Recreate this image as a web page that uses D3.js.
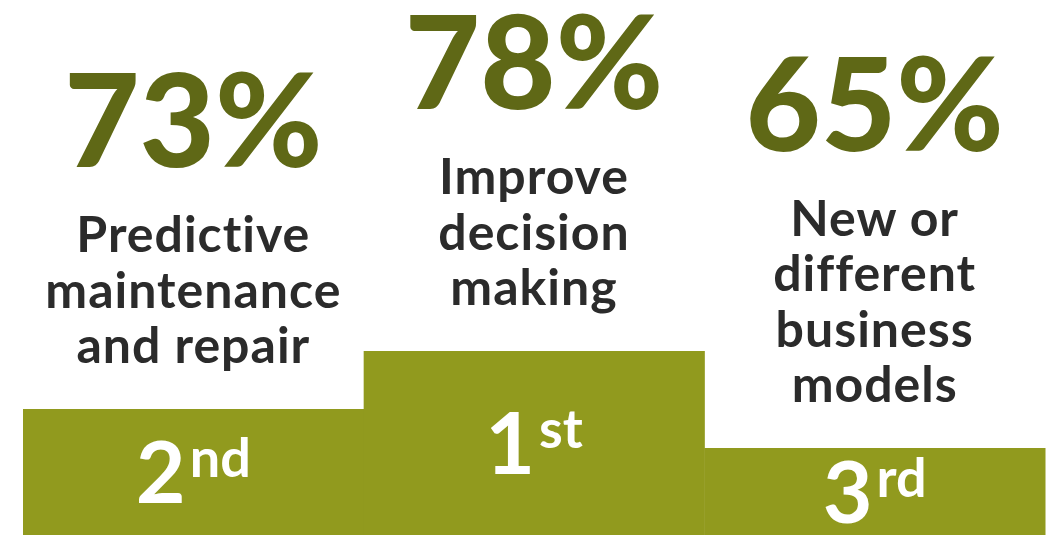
<!DOCTYPE html>
<html>
<head>
<meta charset="utf-8">
<script src="https://cdn.jsdelivr.net/npm/d3@7"></script>
<style>
  html, body { margin: 0; padding: 0; background: #ffffff; }
  svg { display: block; }
</style>
</head>
<body>
<svg id="chart" width="1056" height="535"></svg>
<script>
// Podium: share of respondents per expected benefit, placed by rank
const benefits = ["Predictive maintenance and repair", "Improve decision making", "New or different business models"];
const labelLines = [
  ["Predictive", "maintenance", "and repair"],
  ["Improve", "decision", "making"],
  ["New or", "different", "business", "models"]
];
const percentages = [73, 78, 65];
const ranks = [2, 1, 3];
const rankSuffixes = ["nd", "st", "rd"];

const W = 1056, H = 535;
const svg = d3.select("#chart");

const FONT = "Lato, 'Open Sans', sans-serif";
const podiumColor = "#919a1e";
const percentColor = "#5f6816";
const labelColor = "#2b2b2b";

// horizontal placement of the three steps
const x = d3.scaleBand()
  .domain(benefits)
  .range([23, 1045])
  .padding(0);

// step top by rank: 1st highest, 3rd lowest
const stepTop = d3.scaleOrdinal()
  .domain([1, 2, 3])
  .range([351, 409, 448]);

const rows = benefits.map((b, i) => ({
  benefit: b,
  lines: labelLines[i],
  pct: percentages[i],
  rank: ranks[i],
  suffix: rankSuffixes[i]
}));

const col = svg.selectAll("g.col")
  .data(rows)
  .join("g")
  .attr("class", "col");

// podium steps
col.append("rect")
  .attr("x", d => x(d.benefit))
  .attr("y", d => stepTop(d.rank))
  .attr("width", x.bandwidth() + 0.5)
  .attr("height", d => H - stepTop(d.rank))
  .attr("fill", podiumColor);

// rank number with superscript suffix, centered in the step
const rankText = col.append("text")
  .attr("x", d => x(d.benefit) + x.bandwidth() / 2)
  .attr("y", d => (stepTop(d.rank) + H) / 2 + 31)
  .attr("text-anchor", "middle")
  .attr("font-family", FONT)
  .attr("font-weight", 700)
  .attr("fill", "#ffffff");
rankText.append("tspan")
  .attr("font-size", 86)
  .text(d => d.rank);
rankText.append("tspan")
  .attr("font-size", 54)
  .attr("dx", 4)
  .attr("dy", -26)
  .text(d => d.suffix);

// benefit labels, stacked above the step
const lineGap = 55.5;
col.each(function(d) {
  const g = d3.select(this);
  const cx = x(d.benefit) + x.bandwidth() / 2;
  const lastBase = stepTop(d.rank) - 46;
  const firstBase = lastBase - (d.lines.length - 1) * lineGap;
  g.selectAll("text.label")
    .data(d.lines)
    .join("text")
    .attr("class", "label")
    .attr("x", cx)
    .attr("y", (t, j) => firstBase + j * lineGap)
    .attr("text-anchor", "middle")
    .attr("font-family", FONT)
    .attr("font-weight", 700)
    .attr("font-size", 50)
    .attr("letter-spacing", 1)
    .attr("fill", labelColor)
    .text(t => t);

  // percentage above the label
  g.append("text")
    .attr("class", "pct")
    .attr("x", cx)
    .attr("y", firstBase - 85)
    .attr("text-anchor", "middle")
    .attr("font-family", FONT)
    .attr("font-weight", 900)
    .attr("font-size", 130)
    .attr("fill", percentColor)
    .text(d.pct + "%");
});
</script>
</body>
</html>
